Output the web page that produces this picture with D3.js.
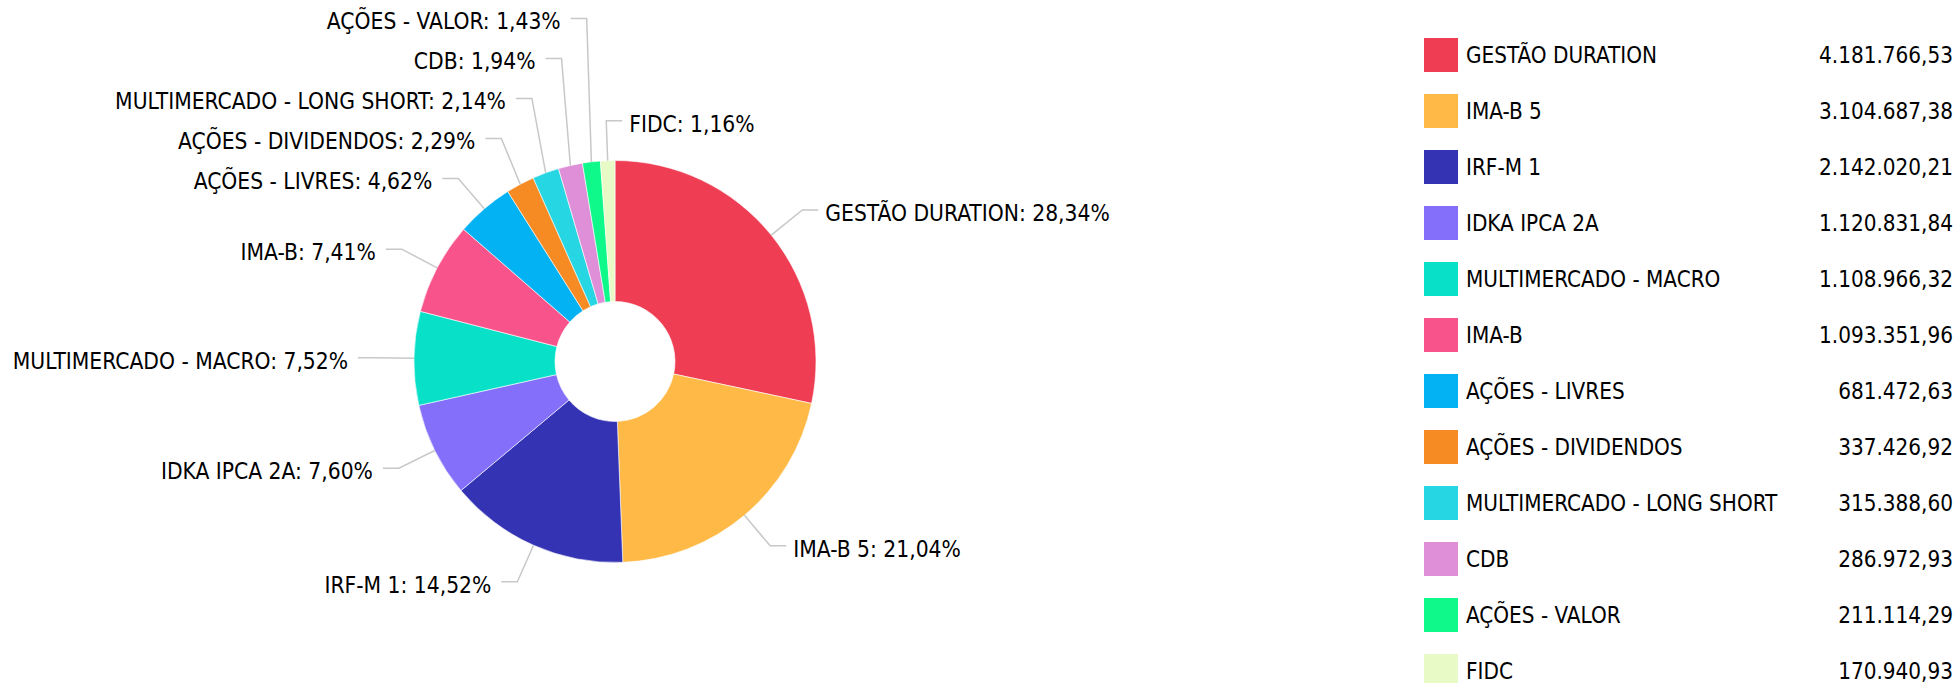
<!DOCTYPE html>
<html>
<head>
<meta charset="utf-8">
<script src="https://cdn.jsdelivr.net/npm/d3@7"></script>
<style>
    body { margin: 0; background: #fff; }
    text { font-family: "DejaVu Sans Condensed", "DejaVu Sans", sans-serif; fill: #000; }
</style>
</head>
<body>
<div id="chart"></div>
<script>
// Carteira por segmento
const categories = [
    'GESTÃO DURATION', 'IMA-B 5', 'IRF-M 1', 'IDKA IPCA 2A', 'MULTIMERCADO - MACRO', 'IMA-B',
    'AÇÕES - LIVRES', 'AÇÕES - DIVIDENDOS', 'MULTIMERCADO - LONG SHORT', 'CDB', 'AÇÕES - VALOR', 'FIDC'
];
const values = [
    4181766.53, 3104687.38, 2142020.21, 1120831.84, 1108966.32, 1093351.96,
    681472.63, 337426.92, 315388.60, 286972.93, 211114.29, 170940.93
];
const colors = [
    '#EF3E54', '#FFB946', '#3333B4', '#836FFA', '#08E1C8', '#F8548B',
    '#03B2F2', '#F68B24', '#27D6E3', '#DF8FD8', '#0EF98A', '#E8FBC6'
];

const width = 1960, height = 683;
const cx = 615, cy = 361.5;
const outerR = 201, innerR = 60;
const kneeR = outerR + 40;
const labelGap = 40;

const br = d3.formatLocale({decimal: ',', thousands: '.', grouping: [3], currency: ['R$', '']});
const fmtValue = br.format(',.2f');
const fmtPct = br.format('.2f');

const svg = d3.select('#chart').append('svg')
    .attr('width', width)
    .attr('height', height);

const total = d3.sum(values);
const arcs = d3.pie().sort(null).value(d => d)(values);
const arc = d3.arc().innerRadius(innerR).outerRadius(outerR);

const pieG = svg.append('g').attr('transform', `translate(${cx},${cy})`);

pieG.selectAll('path.slice')
    .data(arcs)
    .join('path')
    .attr('class', 'slice')
    .attr('d', arc)
    .attr('fill', (d, i) => colors[i])
    .attr('stroke', '#fff')
    .attr('stroke-width', 0.6);

// Label positions: knee on a ring outside the pie, then push apart vertically
const labels = arcs.map((d, i) => {
    const a = (d.startAngle + d.endAngle) / 2;
    const s = Math.sin(a), c = Math.cos(a);
    return {
        i: i,
        ex: outerR * s, ey: -outerR * c,
        kx: kneeR * s, ky: -kneeR * c,
        right: s > -0.05,
        text: categories[i] + ': ' + fmtPct(values[i] / total * 100) + '%'
    };
});

const leftSide = labels.filter(d => !d.right).sort((a, b) => b.ky - a.ky);
let prev = Infinity;
leftSide.forEach(d => {
    d.ky = Math.min(d.ky, prev - labelGap);
    prev = d.ky;
});

const rightSide = labels.filter(d => d.right).sort((a, b) => a.ky - b.ky);
prev = -Infinity;
rightSide.forEach(d => {
    d.ky = Math.max(d.ky, prev + labelGap);
    prev = d.ky;
});

const labelG = pieG.append('g');

labelG.selectAll('polyline')
    .data(labels)
    .join('polyline')
    .attr('points', d => {
        const hx = d.kx + (d.right ? 16 : -16);
        return `${d.ex},${d.ey} ${d.kx},${d.ky} ${hx},${d.ky}`;
    })
    .attr('fill', 'none')
    .attr('stroke', '#c8c8c8')
    .attr('stroke-width', 1.5);

labelG.selectAll('text')
    .data(labels)
    .join('text')
    .attr('x', d => d.kx + (d.right ? 23 : -26))
    .attr('y', d => d.ky + 11)
    .attr('text-anchor', d => d.right ? 'start' : 'end')
    .style('font-size', '22.6px')
    .text(d => d.text);

// Legend
const legend = svg.append('g').attr('transform', 'translate(1424,38)');
const row = legend.selectAll('g')
    .data(categories)
    .join('g')
    .attr('transform', (d, i) => `translate(0,${i * 56})`);

row.append('rect')
    .attr('width', 34)
    .attr('height', 34)
    .attr('fill', (d, i) => colors[i]);

row.append('text')
    .attr('x', 42)
    .attr('y', 25)
    .style('font-size', '22.3px')
    .text(d => d);

row.append('text')
    .attr('x', 529)
    .attr('y', 25)
    .attr('text-anchor', 'end')
    .style('font-size', '22.3px')
    .text((d, i) => fmtValue(values[i]));
</script>
</body>
</html>
